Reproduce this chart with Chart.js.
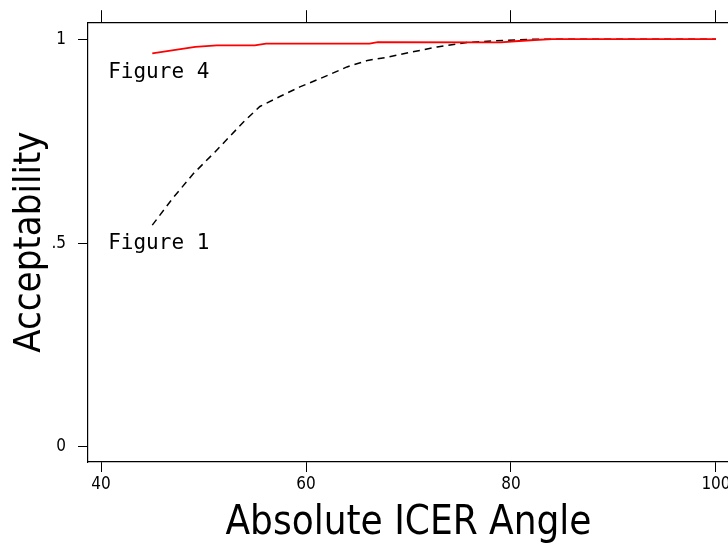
<!DOCTYPE html>
<html>
<head>
<meta charset="utf-8">
<script src="https://cdn.jsdelivr.net/npm/chart.js@4/dist/chart.umd.min.js"></script>
<style>
  body { margin: 0; overflow: hidden; background: #fff; }
  #wrap { width: 728px; height: 544px; overflow: hidden; }
</style>
</head>
<body>
<div id="wrap"><canvas id="myChart" width="760" height="544"></canvas></div>
<script>
// values
const fig1X = [45, 47, 49, 51.1, 53.9, 55.5, 57.5, 59.4, 62, 64, 66, 68, 70, 72.8, 75.7, 79.6, 82, 90, 100];
const fig1Y = [0.544, 0.61, 0.67, 0.723, 0.797, 0.835, 0.86, 0.883, 0.91, 0.932, 0.948, 0.956, 0.967, 0.981, 0.992, 0.9975, 1.0, 1.0, 1.0];
const fig4X = [45, 49.2, 51.3, 55, 56.1, 66.2, 67, 79, 80.4, 82.3, 84, 100];
const fig4Y = [0.965, 0.981, 0.985, 0.985, 0.989, 0.989, 0.993, 0.992, 0.995, 0.998, 1.0, 1.0];
const xTicks = [40, 60, 80, 100];
const yTicks = [0, 0.5, 1];
const yTickLabels = {0: '0', 0.5: '.5', 1: '1'};
const noteText = ['Figure 4', 'Figure 1'];
const noteX = [40.7, 40.7];
const noteY = [0.919, 0.5];

const narrow = '"Liberation Sans Narrow", "DejaVu Sans Condensed", "DejaVu Sans Mono", sans-serif';
const mono = '"DejaVu Sans Mono", "Liberation Mono", monospace';

function toPoints(xs, ys) {
  return xs.map((x, i) => ({x: x, y: ys[i]}));
}

// writes the "Figure n" notes at data positions
const notes = {
  id: 'notes',
  afterDatasetsDraw(chart) {
    const ctx = chart.ctx;
    ctx.save();
    ctx.font = '21px ' + mono;
    ctx.fillStyle = '#000';
    ctx.textAlign = 'left';
    ctx.textBaseline = 'middle';
    for (let i = 0; i < noteText.length; i++) {
      ctx.fillText(noteText[i], chart.scales.x.getPixelForValue(noteX[i]), chart.scales.y.getPixelForValue(noteY[i]));
    }
    ctx.restore();
  }
};

const myChart = new Chart('myChart', {
  type: 'line',
  data: {
    datasets: [{
      label: 'Figure 4',
      data: toPoints(fig4X, fig4Y),
      borderColor: '#ff0000',
      borderWidth: 1.8,
      pointRadius: 0,
      tension: 0
    }, {
      label: 'Figure 1',
      data: toPoints(fig1X, fig1Y),
      borderColor: '#000',
      borderWidth: 1.5,
      borderDash: [7, 5],
      pointRadius: 0,
      tension: 0
    }]
  },
  options: {
    responsive: false,
    animation: false,
    layout: { padding: { left: 0, right: 31, top: 0, bottom: 0 } },
    plugins: { legend: { display: false }, tooltip: { enabled: false } },
    scales: {
      x: {
        type: 'linear',
        position: 'bottom',
        min: 38.73,
        max: 101.27,
        afterBuildTicks: s => { s.ticks = xTicks.map(v => ({value: v})); },
        afterFit: s => { s.height = 82; },
        ticks: { color: '#000', font: { family: narrow, size: 17 }, padding: 2, maxRotation: 0 },
        grid: { display: true, drawOnChartArea: false, drawTicks: true, tickLength: 10, color: '#000', lineWidth: 1 },
        border: { display: true, color: '#000', width: 1.2 },
        title: { display: true, text: 'Absolute ICER Angle', color: '#000',
                 font: { family: narrow, size: 40, lineHeight: 1.0 }, padding: { top: 0, bottom: 0 } }
      },
      x2: {
        type: 'linear',
        position: 'top',
        min: 38.73,
        max: 101.27,
        afterBuildTicks: s => { s.ticks = xTicks.map(v => ({value: v})); },
        afterFit: s => { s.height = 20; },
        ticks: { display: false },
        grid: { display: true, drawOnChartArea: false, drawTicks: true, tickLength: 12, color: '#000', lineWidth: 1 },
        border: { display: true, color: '#000', width: 1.2 }
      },
      y: {
        type: 'linear',
        min: -0.0368,
        max: 1.0417,
        afterBuildTicks: s => { s.ticks = yTicks.map(v => ({value: v})); },
        afterFit: s => { s.width = 88; },
        ticks: { color: '#000', font: { family: narrow, size: 17 }, padding: 12, callback: v => yTickLabels[v] },
        grid: { display: true, drawOnChartArea: false, drawTicks: true, tickLength: 10, color: '#000', lineWidth: 1 },
        border: { display: true, color: '#000', width: 1.2 },
        title: { display: true, text: 'Acceptability', color: '#000',
                 font: { family: narrow, size: 38, lineHeight: 1.2 }, padding: { top: 7, bottom: 0 } }
      }
    }
  },
  plugins: [notes]
});
</script>
</body>
</html>
